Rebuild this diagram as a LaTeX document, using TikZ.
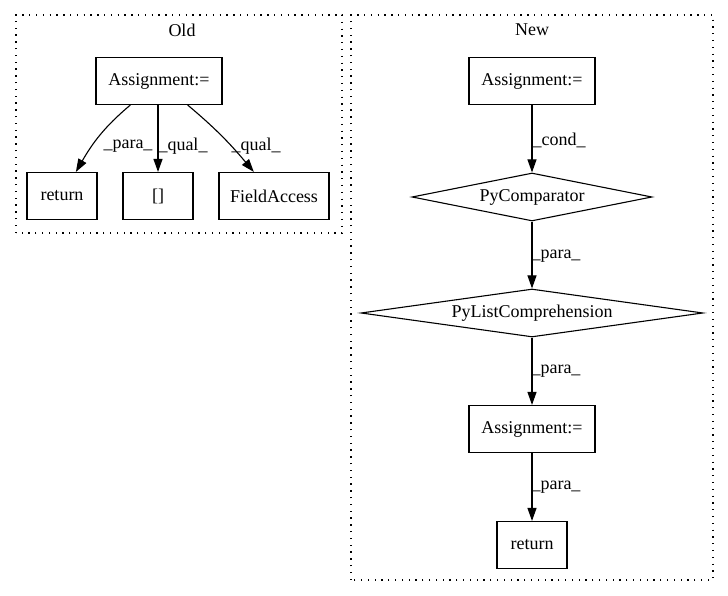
\documentclass[tikz,border=0pt]{standalone}
\usepackage{fontspec}
\setmainfont{Liberation Serif}
\usetikzlibrary{arrows.meta,shapes.geometric}
\tikzset{
  box/.style={draw, line width=1.1pt, minimum width=70pt, minimum height=47pt, inner xsep=11pt, font=\fontsize{18}{20}\selectfont},
  decision/.style={draw, diamond, aspect=7, inner sep=0pt, line width=1.1pt, font=\fontsize{18}{20}\selectfont},
  lbl/.style={font=\fontsize{18}{20}\selectfont},
  flow/.style={line width=1.1pt, -{Triangle[length=13pt,width=9pt]}},
  cluster/.style={line width=1.1pt, dash pattern=on 1.3pt off 5.5pt}
}
\begin{document}
\begin{tikzpicture}[x=1pt,y=1pt]
\def\oldframe{(16,363) rectangle (342,581)}
\def\newframe{(351,16) rectangle (713,581)}
\useasboundingbox (0,0) rectangle (728,596);

\draw[cluster] \oldframe;
\draw[cluster] \newframe;
\node[lbl] (oldtitle) at (182,566) {Old};
\node[lbl] (newtitle) at (532,566) {New};

% Old
\node[box, minimum width=126pt] (oassign) at (159,515) {Assignment:=};
\node[box] (oreturn) at (62,400) {return};
\node[box] (oindex) at (158,400) {[]};
\node[box] (ofield) at (274,400) {FieldAccess};

\draw[flow] (oassign) to[out=-140,in=60] (oreturn);
\draw[flow] (oassign.south -| oindex) -- (oindex);
\draw[flow] (oassign) to[out=-40,in=130] (ofield);
\node[lbl] (l1) at (128,450) {\_para\_};
\node[lbl] (l2) at (183,450) {\_qual\_};
\node[lbl] (l3) at (256,450) {\_qual\_};

% New
\node[box, minimum width=126pt] (nassign) at (532,515) {Assignment:=};
\node[decision, minimum width=240pt, minimum height=48pt] (ncomp) at (532,399) {PyComparator};
\node[decision, minimum width=342pt, minimum height=48pt] (nlist) at (532,283) {PyListComprehension};
\node[box, minimum width=126pt] (nassign2) at (532,167) {Assignment:=};
\node[box] (nreturn) at (532,51) {return};

\draw[flow] (nassign) -- (ncomp);
\draw[flow] (ncomp) -- (nlist);
\draw[flow] (nlist) -- (nassign2);
\draw[flow] (nassign2) -- (nreturn);
\node[lbl] (l4) at (559,456) {\_cond\_};
\node[lbl] (l5) at (556,340) {\_para\_};
\node[lbl] (l6) at (556,225) {\_para\_};
\node[lbl] (l7) at (556,109) {\_para\_};
\end{tikzpicture}
\end{document}
